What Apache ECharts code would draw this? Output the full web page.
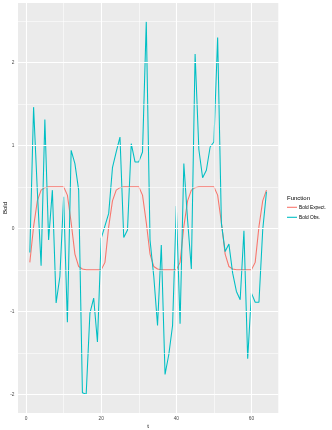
<!DOCTYPE html>
<html>
<head>
<meta charset="utf-8">
<script src="https://cdn.jsdelivr.net/npm/echarts@6/dist/echarts.min.js"></script>
<style>
  html, body { margin: 0; padding: 0; background: #fff; }
  #chart { width: 332px; height: 430px; }
</style>
</head>
<body>
<div id="chart"></div>
<script>
// time points
var t = [1, 2, 3, 4, 5, 6, 7, 8, 9, 10, 11, 12, 13, 14, 15, 16,
         17, 18, 19, 20, 21, 22, 23, 24, 25, 26, 27, 28, 29, 30, 31, 32,
         33, 34, 35, 36, 37, 38, 39, 40, 41, 42, 43, 44, 45, 46, 47, 48,
         49, 50, 51, 52, 53, 54, 55, 56, 57, 58, 59, 60, 61, 62, 63, 64];

// Bold Expect. (red line)
var boldExpect = [-0.41, 0.02, 0.33, 0.46, 0.49, 0.5, 0.5, 0.5, 0.5, 0.5, 0.40, 0.07, -0.31, -0.46, -0.49, -0.5,
                  -0.5, -0.5, -0.5, -0.5, -0.41, 0.02, 0.33, 0.46, 0.49, 0.5, 0.5, 0.5, 0.5, 0.5, 0.40, 0.07,
                  -0.31, -0.46, -0.49, -0.5, -0.5, -0.5, -0.5, -0.5, -0.41, 0.02, 0.33, 0.46, 0.49, 0.5, 0.5, 0.5,
                  0.5, 0.5, 0.40, 0.07, -0.31, -0.46, -0.49, -0.5, -0.5, -0.5, -0.5, -0.5, -0.41, 0.02, 0.33, 0.46];

// Bold Obs. (cyan line)
var boldObs = [-0.29, 1.46, 0.45, -0.45, 1.31, -0.14, 0.46, -0.90, -0.58, 0.38, -1.13, 0.94, 0.78, 0.46, -1.98, -2.0,
               -1.02, -0.84, -1.37, -0.12, 0.03, 0.18, 0.73, 0.92, 1.10, -0.11, -0.02, 1.02, 0.80, 0.80, 0.92, 2.49,
               -0.14, -0.58, -1.17, -0.20, -1.76, -1.52, -1.17, 0.27, -1.15, 0.78, 0.10, -0.49, 2.10, 0.95, 0.61, 0.70,
               0.98, 1.04, 2.30, 0.06, -0.28, -0.19, -0.54, -0.76, -0.86, -0.03, -1.57, -0.78, -0.89, -0.89, -0.02, 0.44];

var xBreaks = [0, 20, 40, 60];
var xMinor = [10, 30, 50];
var yBreaks = [-2, -1, 0, 1, 2];
var yMinor = [-1.5, -0.5, 0.5, 1.5, 2.5];

function pairs(xs, ys) {
    var res = [];
    for (var i = 0; i < xs.length; i++) {
        res.push([xs[i], ys[i]]);
    }
    return res;
}

// white ggplot-style grid lines
var gridLines = [];
for (var i = 0; i < xMinor.length; i++) gridLines.push({ xAxis: xMinor[i], lineStyle: { width: 0.55 } });
for (var i = 0; i < yMinor.length; i++) gridLines.push({ yAxis: yMinor[i], lineStyle: { width: 0.55 } });
for (var i = 0; i < xBreaks.length; i++) gridLines.push({ xAxis: xBreaks[i], lineStyle: { width: 1.1 } });
for (var i = 0; i < yBreaks.length; i++) gridLines.push({ yAxis: yBreaks[i], lineStyle: { width: 1.1 } });

var chart = echarts.init(document.getElementById('chart'), null, { renderer: 'canvas' });

var option = {
    animation: false,
    textStyle: { fontFamily: 'Liberation Sans' },
    title: {
        text: 'Function',
        left: 287,
        top: 195.5,
        padding: 0,
        textStyle: { fontSize: 6, fontWeight: 'normal', color: '#000', fontFamily: 'Liberation Sans' }
    },
    legend: {
        orient: 'vertical',
        left: 287,
        top: 202.3,
        padding: 0,
        itemGap: 0,
        itemWidth: 10,
        itemHeight: 1.1,
        icon: 'rect',
        textStyle: { fontSize: 4.8, color: '#000', lineHeight: 10, padding: [0, 0, 0, -3] },
        data: ['Bold Expect.', 'Bold Obs.']
    },
    grid: {
        left: 18, top: 3, width: 260.3, height: 410,
        outerBoundsMode: 'none',
        containLabel: false,
        show: true, backgroundColor: '#EBEBEB', borderWidth: 0
    },
    xAxis: {
        type: 'value',
        min: -2.15, max: 67.15,
        name: 't',
        nameLocation: 'middle',
        nameGap: 10,
        nameMoveOverlap: false,
        nameTextStyle: { fontSize: 6, color: '#000' },
        axisLine: { show: false },
        axisTick: { show: true, length: 2.7, lineStyle: { color: '#333', width: 0.5 }, customValues: xBreaks },
        axisLabel: { fontSize: 4.8, color: '#4D4D4D', margin: 3, customValues: xBreaks },
        splitLine: { show: false }
    },
    yAxis: {
        type: 'value',
        min: -2.2245, max: 2.7145,
        name: 'Bold',
        nameLocation: 'middle',
        nameRotate: 90,
        nameGap: 13,
        nameMoveOverlap: false,
        nameTextStyle: { fontSize: 6, color: '#000', verticalAlign: 'middle' },
        axisLine: { show: false },
        axisTick: { show: true, length: 2.7, lineStyle: { color: '#333', width: 0.5 }, customValues: yBreaks },
        axisLabel: { fontSize: 4.8, color: '#4D4D4D', margin: 3.5, customValues: yBreaks },
        splitLine: { show: false }
    },
    series: [
        {
            name: 'grid',
            type: 'line',
            data: [],
            z: 1,
            silent: true,
            markLine: {
                silent: true,
                symbol: ['none', 'none'],
                label: { show: false },
                lineStyle: { color: '#FFFFFF', type: 'solid' },
                emphasis: { disabled: true },
                data: gridLines
            }
        },
        {
            name: 'Bold Expect.',
            type: 'line',
            data: pairs(t, boldExpect),
            showSymbol: false,
            symbol: 'none',
            z: 3,
            lineStyle: { color: '#F8766D', width: 1.07 },
            itemStyle: { color: '#F8766D' }
        },
        {
            name: 'Bold Obs.',
            type: 'line',
            data: pairs(t, boldObs),
            showSymbol: false,
            symbol: 'none',
            z: 4,
            lineStyle: { color: '#00BFC4', width: 1.07 },
            itemStyle: { color: '#00BFC4' }
        }
    ]
};

chart.setOption(option);
</script>
</body>
</html>
